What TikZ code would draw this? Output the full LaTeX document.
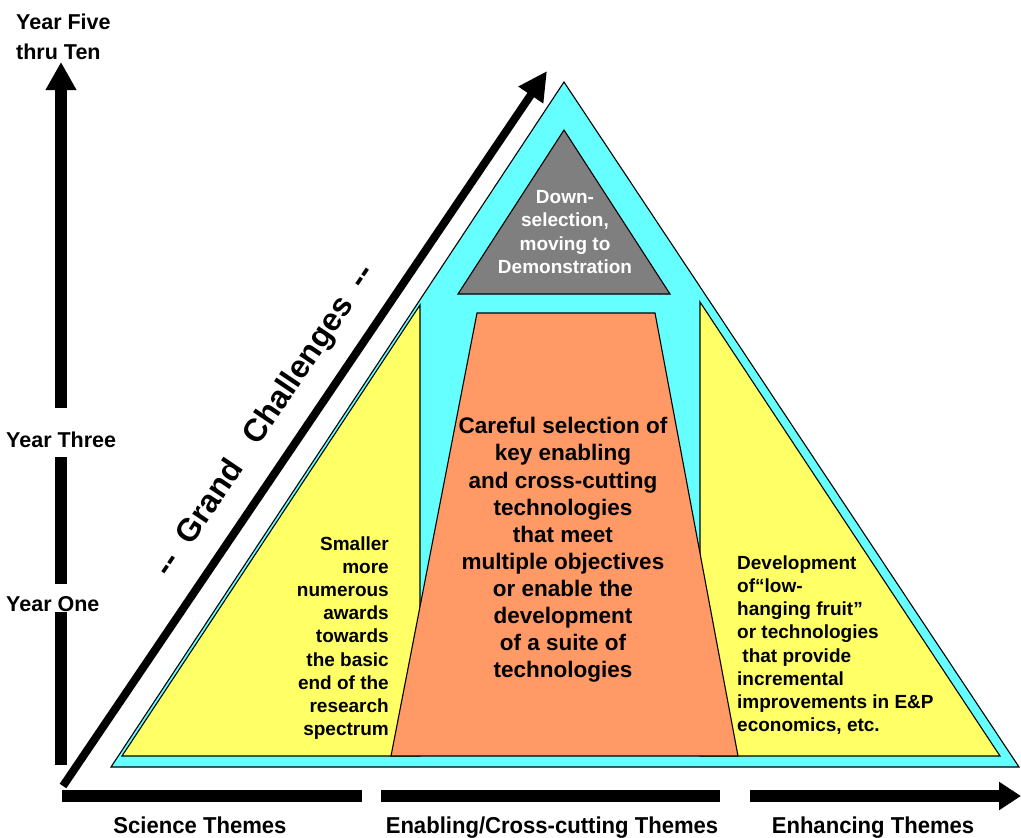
\documentclass[tikz,border=0pt]{standalone}
\usepackage{fontspec}
\setmainfont{Liberation Sans}
\newfontfamily\narrowsans[FakeStretch=0.96]{Liberation Sans}
\usetikzlibrary{arrows.meta}
\definecolor{skycyan}{HTML}{66FFFF}
\definecolor{paleyellow}{HTML}{FFFF66}
\definecolor{salmon}{HTML}{FF9966}
\definecolor{demogray}{HTML}{7F7F7F}

\begin{document}
\begin{tikzpicture}[x=1pt,y=-1pt,
  outline/.style={draw=black,line width=1.1pt,line join=miter},
  lbl/.style={font=\fontsize{21.5}{30}\selectfont\bfseries,inner sep=0pt,align=left},
  body/.style={font=\fontsize{19}{23.2}\selectfont\bfseries,inner sep=0pt},
  bigbody/.style={font=\fontsize{22.5}{27.1}\selectfont\bfseries,inner sep=0pt,align=center},
  theme/.style={font=\narrowsans\fontsize{23}{26}\selectfont\bfseries,inner sep=0pt,anchor=base},
  bar/.style={line width=12pt,line cap=butt},
]
\useasboundingbox (0,0) rectangle (1021,838);

% pyramid layers
\draw[outline,fill=skycyan] (111,767) -- (564,82) -- (1019,767) -- cycle;
\draw[outline,fill=paleyellow] (122,756) -- (420,305) -- (420,756) -- cycle;
\draw[outline,fill=paleyellow] (1000,756) -- (700,302) -- (700,756) -- cycle;
\draw[outline,fill=salmon] (391,756) -- (477,313) -- (655,313) -- (738,756) -- cycle;
\draw[outline,fill=demogray] (458,294) -- (564,130) -- (670,294) -- cycle;

% texts inside the pyramid
\node[body,text=white,align=center] (demo) at (565,232)
  {Down-\\selection,\\moving to\\Demonstration};
\node[bigbody] (enabling) at (563,550)
  {Careful selection of\\key enabling\\and cross-cutting\\technologies\\that meet\\multiple objectives\\or enable the\\development\\of a suite of\\technologies};
\node[body,align=right,anchor=east] (science) at (389,638)
  {Smaller\\more\\numerous\\awards\\towards\\the basic\\end of the\\research\\spectrum};
\node[body,align=left,anchor=west] (enhancing) at (737,645)
  {Development\\of``low-\\hanging fruit''\\or technologies\\\ that provide\\incremental\\improvements in E\&P\\economics, etc.};

% time axis
\coordinate (vbase) at (61,765);
\coordinate (vtop) at (61,62);
\node[lbl,anchor=west] (yearfive) at (16,37) {Year Five\\thru Ten};
\node[lbl,anchor=west] (yearthree) at (6,440) {Year Three};
\node[lbl,anchor=west] (yearone) at (6,604) {Year One};
\draw[bar] (vbase) -- (61,612);
\draw[bar] (61,584) -- (61,457);
\draw[bar,-{Triangle[width=29pt,length=28pt]}] (61,408) -- (vtop);

% grand challenges axis
\coordinate (dbase) at (63,786);
\coordinate (dtop) at (547,71);
\draw[line width=8pt,-{Triangle[width=28pt,length=29pt]}] (dbase) -- (dtop);
\node[font=\fontsize{32}{36}\selectfont\bfseries,inner sep=0pt,rotate=56] (grand) at (266,421)
  {-{}-\hspace{0.55em}Grand\hspace{0.8em}Challenges\hspace{0.55em}-{}-};

% theme axis
\draw[bar] (62,796) -- (362,796);
\draw[bar] (381,796) -- (720,796);
\draw[bar,-{Triangle[width=27pt,length=22pt]}] (750,796) -- (1021,796);
\node[theme] (sci) at (200,833) {Science Themes};
\node[theme] (ena) at (552,833) {Enabling/Cross-cutting Themes};
\node[theme] (enh) at (873,833) {Enhancing Themes};
\end{tikzpicture}
\end{document}
